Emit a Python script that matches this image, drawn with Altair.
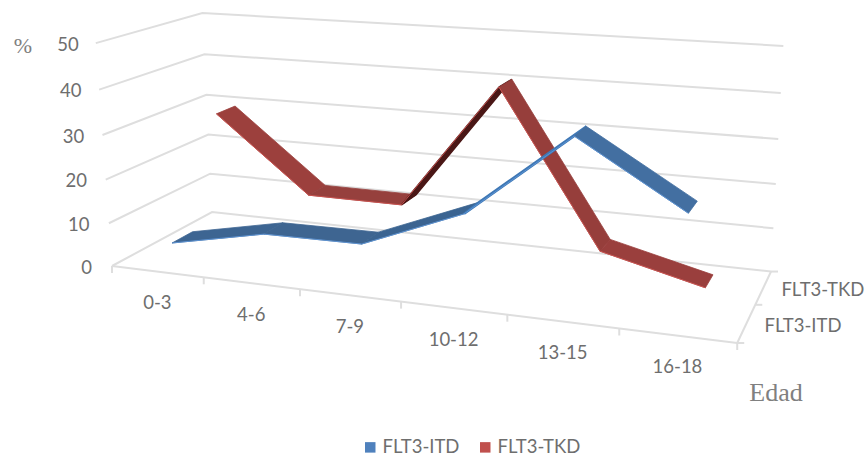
import altair as alt
import pandas as pd

# Chart values
categories = ["0-3", "4-6", "7-9", "10-12", "13-15", "16-18"]
series_names = ["FLT3-ITD", "FLT3-TKD"]
itd_values = [4.6, 9.1, 9.3, 18.3, 36.5, 23.0]
tkd_values = [29.4, 11.9, 11.8, 40.4, 5.8, 0.1]
value_ticks = [0, 10, 20, 30, 40, 50]

# Shading and outline weight of each ribbon segment, left to right
itd_shades = ["#3d6592", "#3e6591", "#3b6491", "#3f78b5", "#436fa1"]
tkd_shades = ["#9c403d", "#96403d", "#4a1716", "#963e3b", "#9a3f3d"]
itd_weights = [0.8, 0.8, 0.8, 2.2, 0.8]
tkd_weights = [0.8, 0.8, 1.4, 0.8, 0.8]
itd_edge = "#5f95d6"
tkd_edge = "#cc5450"

GRID = "#dedede"
TEXT = "#6e6e6e"
W, H = 868, 456
LABEL_SIZE = 18.5


def project(u, d, z):
    """Perspective view of the box: u along ages, d into the page, z up (all 0-1)."""
    den = 1 - 0.14 * u + 0.127 * d - 0.05 * z
    return (
        (112 + 522 * u + 127 * d - 21 * z - 6 * u * z) / den,
        (266 + 29 * u - 27 * d - 225 * z) / den,
    )


xs = alt.Scale(domain=[0, W], range=[0, W])
ys = alt.Scale(domain=[0, H], range=[0, H])
X = alt.X("x:Q", scale=xs, axis=None)
Y = alt.Y("y:Q", scale=ys, axis=None)


# Wall gridlines and floor outline
grid_rows = []
for v in value_ticks:
    path = [(0, 0), (0, 1), (1, 1)]
    for k, (u, d) in enumerate(path):
        px, py = project(u, d, v / 50)
        grid_rows.append({"x": px, "y": py, "line": f"g{v}", "k": k})
for name, path in {"front": [(0, 0), (1, 0)], "side": [(1, 0), (1, 1)]}.items():
    for k, (u, d) in enumerate(path):
        px, py = project(u, d, 0)
        grid_rows.append({"x": px, "y": py, "line": name, "k": k})
grid = alt.Chart(pd.DataFrame(grid_rows)).mark_line(color=GRID, strokeWidth=2).encode(
    x=X, y=Y, detail="line:N", order="k:Q"
)

# Axis ticks on the floor edges
tick_rows = []
for i in range(len(categories) + 1):
    px, py = project(i / len(categories), 0, 0)
    tick_rows.append({"x": px, "y": py, "x2": px, "y2": py + 7})
for i in range(len(series_names) + 1):
    px, py = project(1, i / len(series_names), 0)
    tick_rows.append({"x": px, "y": py, "x2": px + 7, "y2": py})
ticks = alt.Chart(pd.DataFrame(tick_rows)).mark_rule(color=GRID, strokeWidth=2).encode(
    x=X, y=Y, x2="x2:Q", y2="y2:Q"
)


def ribbon(values, shades, weights, edge, depth):
    """One closed quad per segment, plus the lit lower edge."""
    n = len(categories)
    near, far = depth - 0.1, depth + 0.1
    layers = []
    for i, shade in enumerate(shades):
        u0, u1 = (i + 0.5) / n, (i + 1.5) / n
        z0, z1 = values[i] / 50, values[i + 1] / 50
        corners = [(u0, near, z0), (u1, near, z1), (u1, far, z1), (u0, far, z0), (u0, near, z0)]
        rows = []
        for k, c in enumerate(corners):
            px, py = project(*c)
            rows.append({"x": px, "y": py, "k": k})
        layers.append(
            alt.Chart(pd.DataFrame(rows)).mark_line(fill=shade, stroke=shade, strokeWidth=weights[i]).encode(
                x=X, y=Y, order="k:Q"
            )
        )
    rows = []
    for i, v in enumerate(values):
        px, py = project((i + 0.5) / n, near, v / 50)
        rows.append({"x": px, "y": py, "k": i})
    layers.append(
        alt.Chart(pd.DataFrame(rows)).mark_line(stroke=edge, strokeWidth=0.9).encode(x=X, y=Y, order="k:Q")
    )
    return layers


# Tick labels
base_font = {"font": "Lato", "color": TEXT}
value_rows = []
for v in value_ticks:
    px, py = project(0, 0, v / 50)
    value_rows.append({"x": px - 20 + 3 * v / 50, "y": py + 1.5, "t": str(v)})
value_labels = alt.Chart(pd.DataFrame(value_rows)).mark_text(
    align="right", baseline="middle", fontSize=LABEL_SIZE, **base_font
).encode(x=X, y=Y, text="t:N")

cat_rows = []
for i, c in enumerate(categories):
    px, py = project((i + 0.5) / len(categories), 0, 0)
    cat_rows.append({"x": px, "y": py + 31.5, "t": c})
cat_labels = alt.Chart(pd.DataFrame(cat_rows)).mark_text(
    align="center", baseline="middle", fontSize=LABEL_SIZE, **base_font
).encode(x=X, y=Y, text="t:N")

depth_rows = []
for i, s in enumerate(series_names):
    px, py = project(1, (i + 0.5) / len(series_names), 0)
    depth_rows.append({"x": px + 18, "y": py + 2.5, "t": s})
depth_labels = alt.Chart(pd.DataFrame(depth_rows)).mark_text(
    align="left", baseline="middle", fontSize=LABEL_SIZE, **base_font
).encode(x=X, y=Y, text="t:N")

# Axis titles
titles = [
    {"x": 23, "y": 46, "t": "%", "s": 22},
    {"x": 776, "y": 393, "t": "Edad", "s": 26},
]
title_marks = alt.Chart(pd.DataFrame(titles)).mark_text(
    align="center", baseline="middle", font="Liberation Serif", color="#808080"
).encode(x=X, y=Y, text="t:N", size=alt.Size("s:Q", scale=None, legend=None))

# Legend, carried by an invisible layer
legend_layer = alt.Chart(pd.DataFrame({"s": series_names, "x": [0, 0], "y": [0, 0]})).mark_square(size=0).encode(
    x=X,
    y=Y,
    color=alt.Color(
        "s:N",
        scale=alt.Scale(domain=series_names, range=["#4f81bd", "#c0504d"]),
        legend=alt.Legend(
            title=None,
            orient="none",
            legendX=361,
            legendY=438,
            direction="horizontal",
            symbolType="square",
            symbolSize=110,
            symbolOpacity=1,
            symbolStrokeWidth=0,
            labelFont="Lato",
            labelFontSize=LABEL_SIZE,
            labelColor=TEXT,
            columnPadding=16,
            labelOffset=3,
        ),
    ),
)

layers = [grid, ticks]
layers += ribbon(tkd_values, tkd_shades, tkd_weights, tkd_edge, 0.75)
layers += ribbon(itd_values, itd_shades, itd_weights, itd_edge, 0.25)
layers += [value_labels, cat_labels, depth_labels, title_marks, legend_layer]

chart = (
    alt.layer(*layers)
    .properties(width=W, height=H, padding=0, autosize=alt.AutoSizeParams(type="none"))
    .configure_view(stroke=None)
)
chart.save("out.html", embed_options={"renderer": "svg", "actions": False})
